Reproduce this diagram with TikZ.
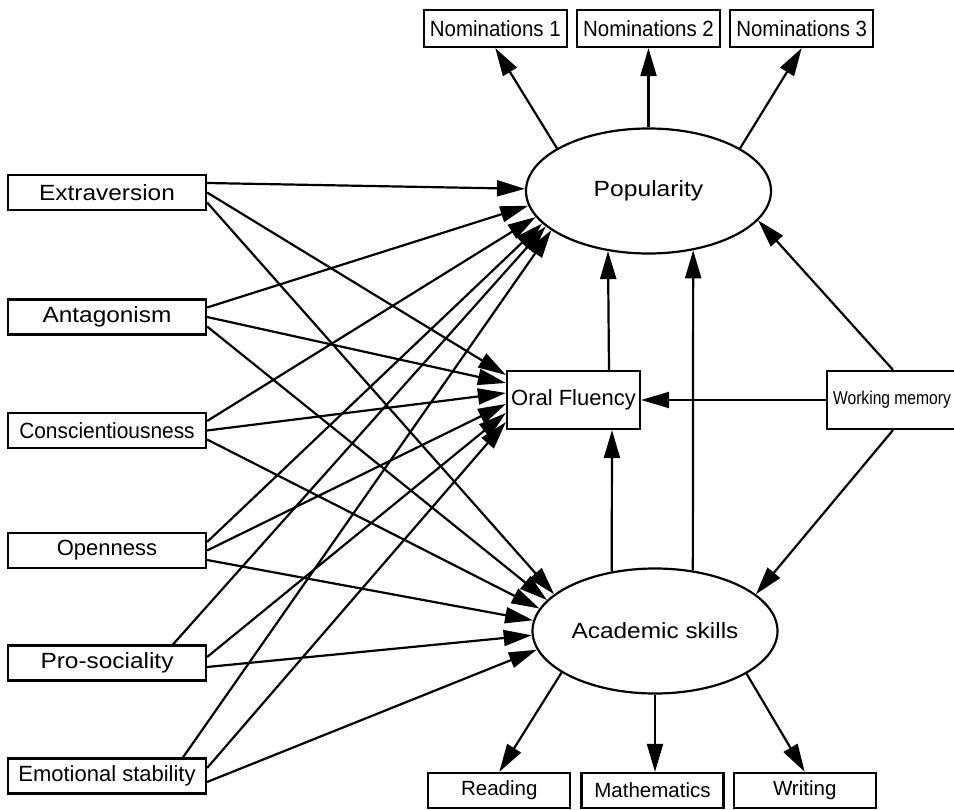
\documentclass[tikz,border=0pt]{standalone}
\usepackage{graphicx}
\usepackage{fontspec}
\setmainfont{Liberation Sans}
\usetikzlibrary{positioning, arrows.meta, shapes.geometric}
\tikzset{
  >={Triangle[length=28pt,width=16pt]},
  obs/.style={draw, rectangle, inner sep=0pt, minimum height=35pt,
    font=\fontsize{22}{26}\selectfont},
  var/.style={obs, minimum width=198pt},
  ind/.style={obs, minimum width=143pt},
  lat/.style={draw, ellipse, inner sep=0pt, minimum width=245pt,
    minimum height=125pt, font=\fontsize{22}{26}\selectfont},
}
\newcommand{\hs}[2]{\scalebox{#1}[1]{#2}}

\begin{document}
\begin{tikzpicture}[x=1pt, y=-1pt, line width=2.2pt]
      \path[use as bounding box, fill=white] (0,0) rectangle (954,810);

      % predictors
      \node[var] (extra)  at (107,192.5) {\hs{1.11}{Extraversion}};
      \node[var] (antag)  at (107,317)   {\hs{1.11}{Antagonism}};
      \node[var] (consc)  at (107,430.5) {\hs{0.95}{Conscientiousness}};
      \node[var] (open)   at (107,550.5) {Openness};
      \node[var] (prosoc) at (107,663)   {\hs{1.11}{Pro-sociality}};
      \node[var] (emot)   at (107,776)   {Emotional stability};

      % latent variables
      \node[lat] (pop)  at (648.5,191) {\hs{1.12}{Popularity}};
      \node[lat] (acad) at (655,631)   {\hs{1.11}{Academic skills}};

      \node[obs, minimum width=133pt, minimum height=58pt] (oral) at (573.5,400) {Oral Fluency};
      \node[obs, minimum width=130pt, minimum height=58pt, font=\fontsize{18.6}{20}\selectfont]
            (wm) at (892,400) {\hs{0.84}{Working memory}};

      % indicators
      \node[ind, minimum height=37pt] (nom2) at (648.5,28.5) {\hs{0.93}{Nominations 2}};
      \node[ind, minimum height=37pt, left=8pt of nom2]  (nom1) {\hs{0.93}{Nominations 1}};
      \node[ind, minimum height=37pt, right=8pt of nom2] (nom3) {\hs{0.93}{Nominations 3}};

      \node[ind, minimum width=142pt, font=\fontsize{20.5}{24}\selectfont] (math) at (652.5,790.5) {Mathematics};
      \node[ind, minimum width=142pt, font=\fontsize{20.5}{24}\selectfont, left=9pt of math]  (reading) {Reading};
      \node[ind, minimum width=142pt, font=\fontsize{20.5}{24}\selectfont, right=8pt of math] (writing) {Writing};

      \path[->] ([yshift=9.5pt]extra.east)  edge (pop.179)
                (extra.east)                  edge ([yshift=25pt]oral.west)
                ([yshift=-10pt]extra.east)  edge (acad.160)
                ([yshift=9.5pt]antag.east)  edge (pop.187)
                (antag.east)                  edge ([yshift=17pt]oral.west)
                ([yshift=-9.5pt]antag.east) edge (acad.164)
                ([yshift=9.5pt]consc.east)  edge (pop.193)
                (consc.east)                  edge ([yshift=7pt]oral.west)
                ([yshift=-9pt]consc.east)   edge (acad.169)
                ([yshift=8.5pt]open.east)   edge (pop.197)
                (open.east)                   edge ([yshift=-4pt]oral.west)
                ([yshift=-9.5pt]open.east)  edge (acad.175)
                ([xshift=66pt]prosoc.north) edge (pop.199)
                ([yshift=6pt]prosoc.east)   edge ([yshift=-13pt]oral.west)
                ([yshift=-4pt]prosoc.east)  edge (acad.182)
                ([xshift=76pt]emot.north)   edge (pop.202)
                ([yshift=8pt]emot.east)     edge ([yshift=-22pt]oral.west)
                ([yshift=-6pt]emot.east)    edge (acad.189);

      \path[->] (pop.155.3)                 edge (nom1.south)
                (pop.north)                 edge (nom2.south)
                (pop.25.4)                  edge (nom3.south)
                ([xshift=35.5pt]oral.north) edge (pop.-124)
                (acad.126)                  edge ([xshift=38.5pt]oral.south)
                (acad.58)                   edge (pop.-53)
                (wm.west)                   edge (oral.east)
                ([xshift=1pt]wm.north)      edge (pop.-15)
                ([xshift=1pt]wm.south)      edge (acad.20)
                (acad.204)                  edge (reading.north)
                (acad.south)                edge (acad.south |- math.north)
                (acad.-25)                  edge (writing.north);
\end{tikzpicture}
\end{document}
